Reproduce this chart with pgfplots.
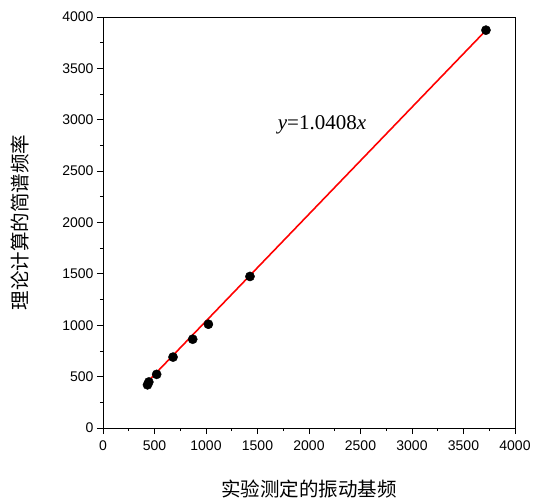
\documentclass[border=0pt]{standalone}
\usepackage{pgfplots}
\pgfplotsset{compat=1.18}
\usepackage{fontspec}
\setmainfont{Liberation Sans}
\newfontfamily\cjk{Noto Sans CJK SC}
\newfontfamily\serif{Liberation Serif}

\begin{document}
\begin{tikzpicture}
\useasboundingbox (-103bp,-74bp) rectangle (431bp,428bp);
\begin{axis}[
    at={(0,0)}, anchor=south west,
    scale only axis,
    width=412bp, height=411bp,
    xmin=0, xmax=4000, ymin=0, ymax=4000,
    xtick={0,500,...,4000}, ytick={0,500,...,4000},
    minor tick num=1,
    tick align=outside,
    xtick pos=bottom, ytick pos=left,
    major tick length=6bp, minor tick length=3bp,
    axis line style={line width=1pt},
    every tick/.style={black, line width=0.8pt},
    tick label style={font=\fontsize{14bp}{16bp}\selectfont},
    xticklabel style={yshift=-3bp},
    /pgf/number format/assume math mode=true,
    /pgf/number format/1000 sep={},
    xlabel={\cjk\fontsize{19.5bp}{22bp}\selectfont 实验测定的振动基频},
    ylabel={\cjk\fontsize{19.5bp}{22bp}\selectfont 理论计算的简谱频率},
    xlabel style={yshift=-23bp},
    ylabel style={yshift=26bp},
]
\addplot[red, line width=1.6pt] coordinates {(425,442) (3718,3870)};
\addplot[only marks, mark=*, mark size=4.6bp, black] coordinates {
    (432,420) (445,448) (521,522) (680,690) (871,864) (1023,1010) (1427,1475) (3718,3872)
};
\node at (axis cs:2126,2948) {\serif\fontsize{21bp}{24bp}\selectfont\textit{y}=1.0408\textit{x}};
\end{axis}
\end{tikzpicture}
\end{document}
